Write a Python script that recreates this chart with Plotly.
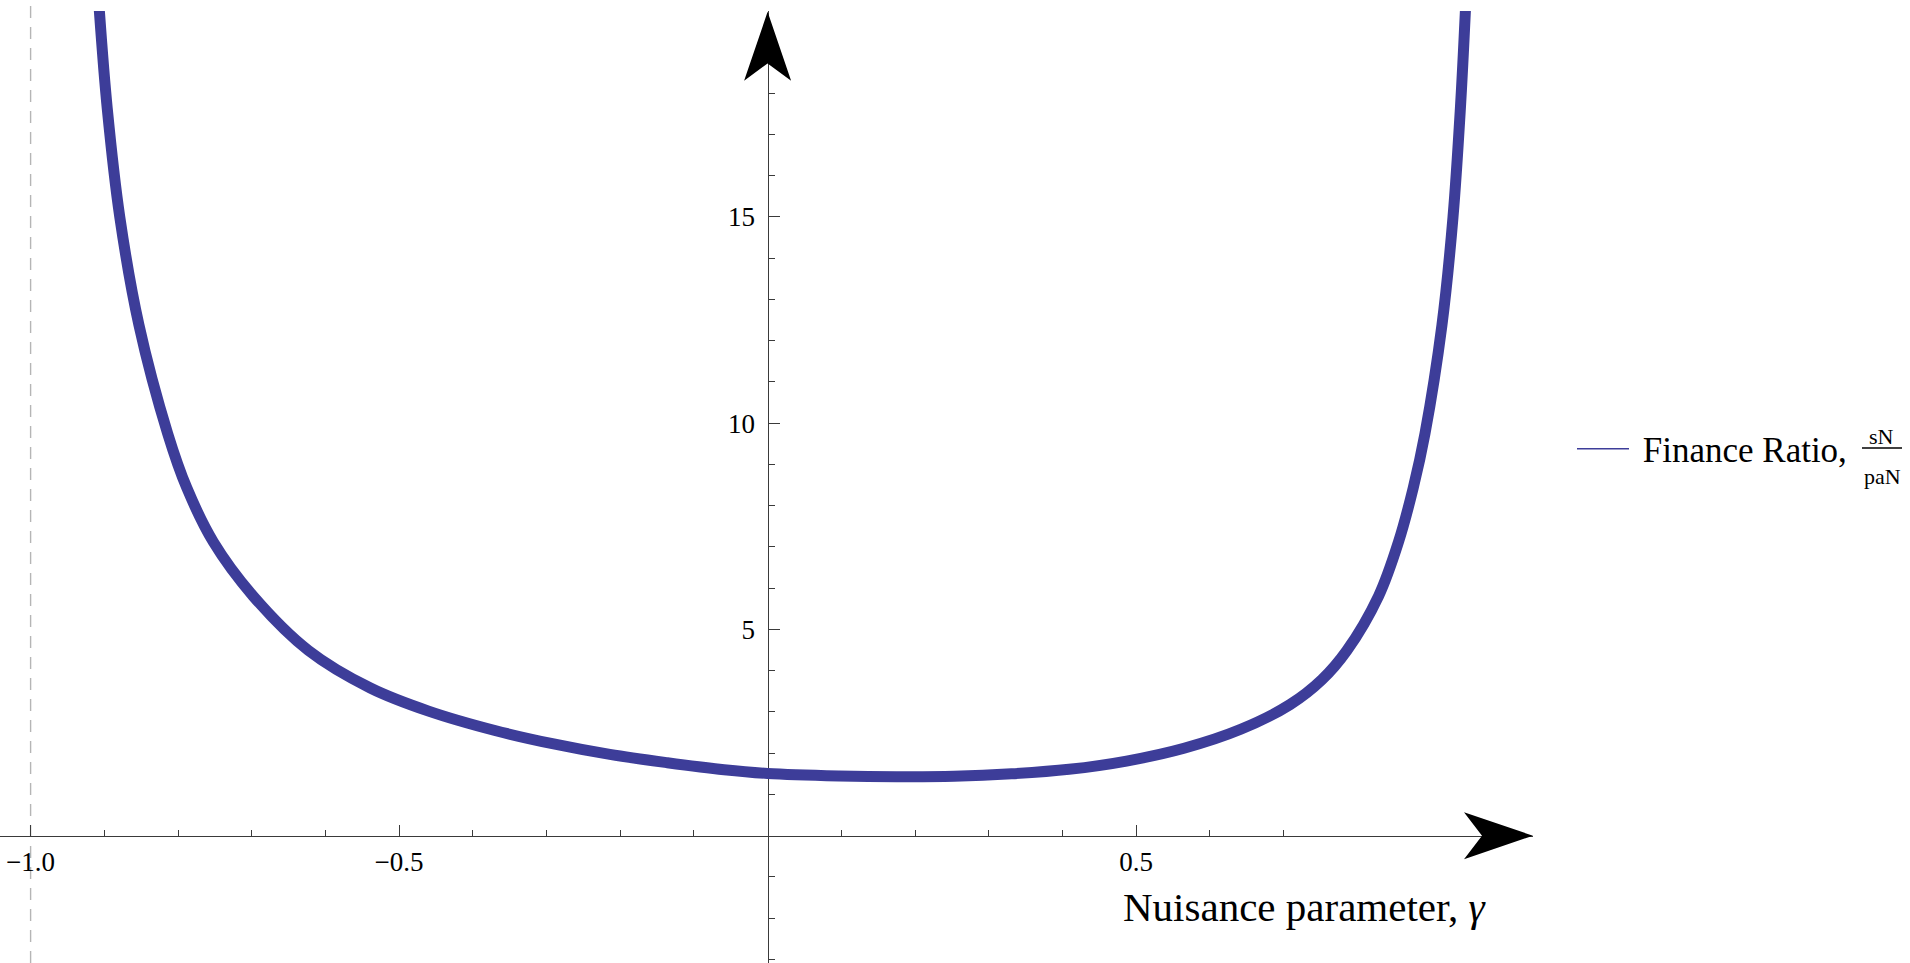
import plotly.graph_objects as go

# ---------------- data ----------------
gamma = [-0.907, -0.896, -0.879, -0.853, -0.814, -0.788, -0.752, -0.698, -0.623,
         -0.539, -0.46, -0.370, -0.292, -0.214, -0.136, -0.059, 0.0, 0.097, 0.175,
         0.253, 0.331, 0.409, 0.487, 0.565, 0.642, 0.709, 0.752, 0.786, 0.829,
         0.856, 0.876, 0.892, 0.915, 0.930, 0.940, 0.947]
finance_ratio = [20.07, 17.63, 15.0, 12.38, 9.75, 8.43, 7.12, 5.81, 4.49,
                 3.58, 3.02, 2.55, 2.23, 1.97, 1.77, 1.60, 1.51, 1.45, 1.43,
                 1.44, 1.50, 1.61, 1.81, 2.12, 2.58, 3.18, 3.78, 4.49, 5.81,
                 7.12, 8.43, 9.75, 12.38, 15.0, 17.63, 20.07]

x_major_ticks = [-1.0, -0.5, 0.5]
x_major_labels = ["\u22121.0", "\u22120.5", "0.5"]
x_minor_ticks = [-0.9, -0.8, -0.7, -0.6, -0.4, -0.3, -0.2, -0.1, 0.1, 0.2, 0.3, 0.4, 0.6, 0.7]
y_major_ticks = [5, 10, 15]
y_major_labels = ["5", "10", "15"]
y_minor_ticks = [-3, -2, -1, 1, 2, 3, 4, 6, 7, 8, 9, 11, 12, 13, 14, 16, 17, 18]
ref_line_x = -1.0

series_name = "\u00a0Finance Ratio,"
frac_num, frac_den = "sN", "paN"
x_title = "Nuisance parameter, <i>\u03b3</i>"

# ---------------- geometry ----------------
W, H = 1910, 963
plot_left, plot_right, plot_top, plot_bottom = 0, 1533, 11, 963
x0_px, px_per_x = 767.6, 737.0
y0_px, px_per_y = 835.7, 41.25

x_range = [(plot_left - x0_px) / px_per_x, (plot_right - x0_px) / px_per_x]
y_range = [(y0_px - plot_bottom) / px_per_y, (y0_px - plot_top) / px_per_y]
plot_w = plot_right - plot_left
plot_h = plot_bottom - plot_top


def px_x(X):
    return (X - plot_left) / plot_w


def px_y(Y):
    return (plot_bottom - Y) / plot_h


CURVE = "#3d3d99"
AXIS = "#3a3a3a"
FONT = "Liberation Serif"

fig = go.Figure()
fig.add_trace(go.Scatter(x=gamma, y=finance_ratio, mode="lines",
                         line=dict(color=CURVE, width=11, shape="spline", smoothing=1.0),
                         showlegend=False, hoverinfo="skip"))
# legend entry (thin sample line as in the reference)
fig.add_trace(go.Scatter(x=[None], y=[None], mode="lines",
                         line=dict(color=CURVE, width=1.5), name=series_name))

axis_common = dict(showgrid=False, zeroline=False, showline=True, linecolor=AXIS,
                   linewidth=1.3, ticks="inside", ticklen=11, tickwidth=1.2,
                   tickcolor=AXIS, anchor="free", layer="below traces",
                   tickfont=dict(family=FONT, size=27, color="black"))

fig.update_layout(
    width=W, height=H,
    margin=dict(l=plot_left, r=W - plot_right, t=plot_top, b=H - plot_bottom, autoexpand=False),
    paper_bgcolor="white", plot_bgcolor="white",
    xaxis=dict(range=x_range, tickmode="array", tickvals=x_major_ticks, ticktext=x_major_labels,
               position=(0 - y_range[0]) / (y_range[1] - y_range[0]),
               minor=dict(tickvals=x_minor_ticks, ticks="inside", ticklen=6, tickwidth=1.1,
                          tickcolor=AXIS),
               ticklabelstandoff=2, **axis_common),
    yaxis=dict(range=y_range, tickmode="array", tickvals=y_major_ticks, ticktext=y_major_labels,
               position=(0 - x_range[0]) / (x_range[1] - x_range[0]),
               minor=dict(tickvals=y_minor_ticks, ticks="inside", ticklen=6, tickwidth=1.1,
                          tickcolor=AXIS),
               ticklabelstandoff=7, **axis_common),
    legend=dict(x=px_x(1572), y=px_y(449), xanchor="left", yanchor="middle",
                font=dict(family=FONT, size=35, color="black"), bgcolor="rgba(0,0,0,0)",
                itemwidth=52),
    showlegend=True,
)

shapes = [
    # dashed reference line at gamma = -1
    dict(type="line", xref="x", yref="paper", x0=ref_line_x, x1=ref_line_x,
         y0=0, y1=1 + plot_top / plot_h, line=dict(color="#b5b5b5", width=1.4, dash="12px,9px"),
         layer="below"),
    # arrow head of the vertical axis
    dict(type="path", xref="x", yref="y", xsizemode="pixel", ysizemode="pixel",
         xanchor=0, yanchor=y_range[1] - 0.02,
         path="M0,0 L-23.5,-69 L0,-51.6 L23.5,-69 Z",
         fillcolor="black", line=dict(width=0)),
    # arrow head of the horizontal axis
    dict(type="path", xref="x", yref="y", xsizemode="pixel", ysizemode="pixel",
         xanchor=x_range[1], yanchor=0,
         path="M0,0 L-69,23.5 L-51,0 L-69,-23.5 Z",
         fillcolor="black", line=dict(width=0)),
    # fraction bar in the legend label
    dict(type="line", xref="paper", yref="paper", x0=px_x(1862), x1=px_x(1902),
         y0=px_y(448), y1=px_y(448), line=dict(color="black", width=1.3)),
]
fig.update_layout(shapes=shapes)

annotations = [
    dict(text=x_title, xref="paper", yref="paper", x=px_x(1121), y=px_y(907),
         xanchor="left", yanchor="middle", showarrow=False,
         font=dict(family=FONT, size=41, color="black")),
    dict(text=frac_num, xref="paper", yref="paper", x=px_x(1881), y=px_y(437),
         xanchor="center", yanchor="middle", showarrow=False,
         font=dict(family=FONT, size=22, color="black")),
    dict(text=frac_den, xref="paper", yref="paper", x=px_x(1882), y=px_y(476),
         xanchor="center", yanchor="middle", showarrow=False,
         font=dict(family=FONT, size=22, color="black")),
]
fig.update_layout(annotations=annotations)

fig.write_html("out.html", config={"displayModeBar": False},
               post_script="document.body.style.margin='0';")
